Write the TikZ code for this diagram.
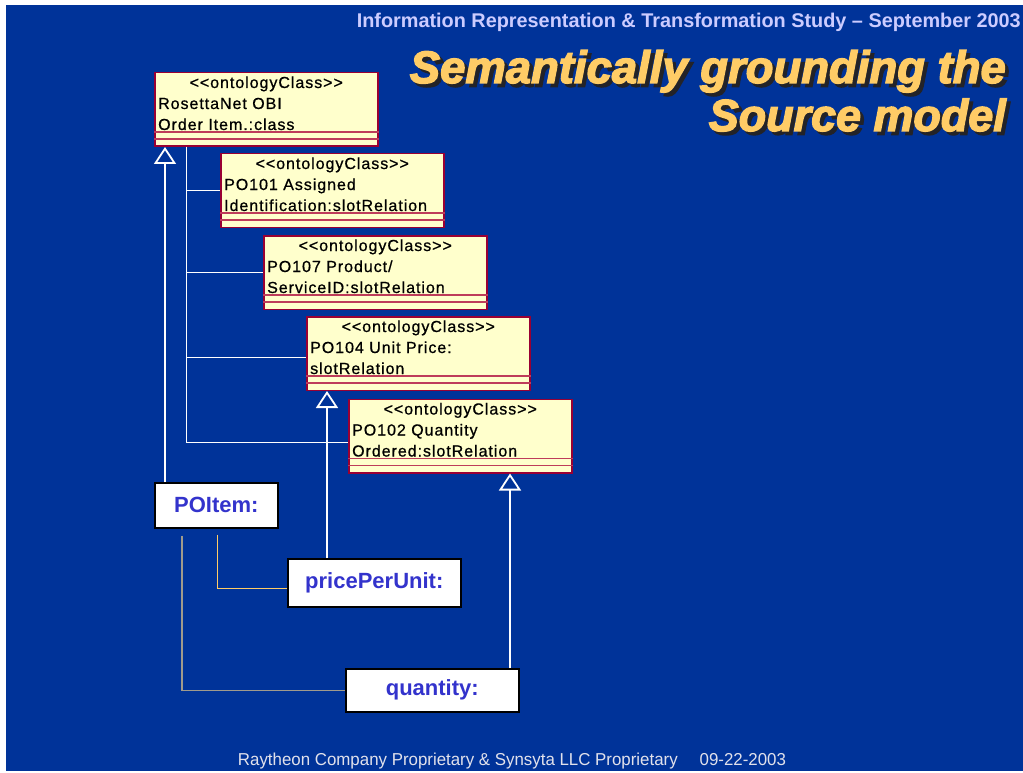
\documentclass[tikz,border=0pt]{standalone}
\usepackage{fontspec}
\setmainfont{Liberation Sans}
\newfontfamily\boxfont[LetterSpace=6,FakeBold=0.7]{Liberation Sans}
\newfontfamily\titlefont[BoldItalicFeatures={FakeBold=3}]{Liberation Sans}
\usetikzlibrary{arrows.meta}
\definecolor{bg}{RGB}{0,51,153}
\definecolor{clsfill}{RGB}{255,255,204}
\definecolor{clsborder}{RGB}{153,0,51}
\definecolor{clsinner}{RGB}{190,60,90}
\definecolor{objtext}{RGB}{51,51,204}
\definecolor{headtext}{RGB}{204,204,255}
\definecolor{titletext}{RGB}{255,204,102}
\definecolor{titleshadow}{RGB}{35,35,40}
\definecolor{yellowline}{RGB}{255,204,102}
\definecolor{grayline}{RGB}{160,155,140}
\definecolor{foottext}{RGB}{225,225,235}
\tikzset{
  cls/.style={draw=clsborder, line width=1.5pt, fill=clsfill, minimum width=223pt, minimum height=73.5pt, anchor=north west, inner sep=0pt},
  clsline/.style={draw=clsinner, line width=1.3pt},
  stereo/.style={anchor=base, inner sep=0pt, font=\boxfont\fontsize{16}{18}\selectfont},
  clstext/.style={anchor=base west, inner sep=0pt, font=\boxfont\fontsize{16}{18}\selectfont},
  obj/.style={draw=black, line width=1.6pt, fill=white, anchor=north west, inner sep=0pt, text=objtext, font=\bfseries\fontsize{22}{26}\selectfont},
  gen/.style={draw=white, line width=2pt, -{Triangle[open, length=17pt, width=22pt, line width=1.8pt]}},
  assoc/.style={draw=white, line width=1pt},
  ylink/.style={draw=yellowline, line width=1pt},
  glink/.style={draw=grayline, line width=1.6pt},
  titlebox/.style={anchor=base east, inner sep=0pt},
}
\newcommand{\classbox}[5]{%
  \node[cls] (#1) at (#2,#3) {};
  \draw[clsline] ([yshift=-60pt]#1.north west) -- ([yshift=-60pt]#1.north east);
  \draw[clsline] ([yshift=-67pt]#1.north west) -- ([yshift=-67pt]#1.north east);
  \node[stereo] (#1s) at ([yshift=-16pt]#1.north) {<<ontologyClass>>};
  \node[clstext] (#1a) at ([xshift=4pt,yshift=-37pt]#1.north west) {#4};
  \node[clstext] (#1b) at ([xshift=4pt,yshift=-58pt]#1.north west) {#5};
}
% shadowed title text: shadow and text in one box
\newcommand{\shadowtext}[2]{%
  \resizebox{#1}{!}{\titlefont\bfseries\itshape
    \rlap{\hspace*{0.08em}\raisebox{-0.08em}{\textcolor{titleshadow}{#2}}}%
    \textcolor{titletext}{#2}}}
\begin{document}
\begin{tikzpicture}[x=1pt,y=-1pt]
\useasboundingbox (0,0) rectangle (1023,773);
\fill[white] (0,0) rectangle (1023,773);
\fill[bg] (6,5) rectangle (1023,771);

% header
\node[anchor=base east, inner sep=0pt, text=headtext] (head) at (1021,28)
  {\resizebox{664pt}{!}{\bfseries Information Representation \& Transformation Study -- September 2003}};

% title
\node[titlebox] (t1) at (1006,83) {\shadowtext{596pt}{Semantically grounding the}};
\node[titlebox] (t2) at (1006,131) {\shadowtext{297pt}{Source model}};

% class boxes
\classbox{c1}{154}{72}{RosettaNet OBI}{Order Item.:class}
\classbox{c2}{220}{153}{PO101 Assigned}{Identification:slotRelation}
\classbox{c3}{263}{235}{PO107 Product/}{ServiceID:slotRelation}
\classbox{c4}{306}{316}{PO104 Unit Price:}{slotRelation}
\classbox{c5}{348}{398.5}{PO102 Quantity}{Ordered:slotRelation}

% object boxes
\node[obj, minimum width=123pt, minimum height=45pt] (poitem) at (154,482) {POItem:};
\node[obj, minimum width=173pt, minimum height=48pt] (ppu) at (287,558) {pricePerUnit:};
\node[obj, minimum width=173pt, minimum height=43pt] (qty) at (345,668) {quantity:};

% slot links from class c1
\coordinate (trunk) at ([xshift=32pt]c1.south west);
\draw[assoc] (trunk) |- ([yshift=-6pt]c5.west);
\draw[assoc] (trunk) |- (c2.west);
\draw[assoc] (trunk) |- (c3.west);
\draw[assoc] (trunk) |- ([yshift=-4pt]c4.west);

% generalizations
\coordinate (qtop) at ([xshift=165pt]qty.north west);
\draw[gen] ([xshift=11pt]poitem.north west) -- ([xshift=11pt]c1.south west);
\draw[gen] ([xshift=40pt]ppu.north west) -- ([xshift=21pt]c4.south west);
\draw[gen] (qtop) -- (qtop |- c5.south);

% attribute links
\draw[ylink] ([xshift=63pt,yshift=-6pt]poitem.south west) |- ([yshift=-6pt]ppu.west);
\draw[glink] ([xshift=28pt,yshift=-7pt]poitem.south west) |- (qty.west);

% footer
\node[anchor=base, inner sep=0pt, text=foottext] (foot) at (512,765)
  {\resizebox{548pt}{12.5pt}{Raytheon Company Proprietary \& Synsyta LLC Proprietary\hspace*{1.3em}09-22-2003}};
\end{tikzpicture}
\end{document}
